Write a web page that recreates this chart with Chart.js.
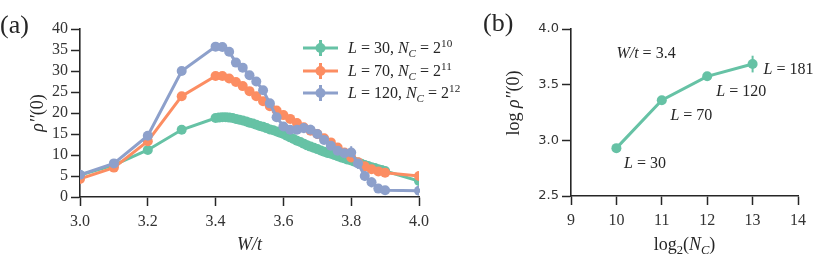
<!DOCTYPE html>
<html>
<head>
<meta charset="utf-8">
<script src="https://cdn.jsdelivr.net/npm/chart.js@4/dist/chart.umd.min.js"></script>
<style>
  body { margin: 0; background: #fff; }
  #wrap { position: relative; width: 830px; height: 266px; }
  #chartA { position: absolute; left: 0; top: 0; }
  #chartB { position: absolute; left: 480px; top: 0; }
</style>
</head>
<body>
<div id="wrap">
  <canvas id="chartA" width="480" height="266"></canvas>
  <canvas id="chartB" width="350" height="266"></canvas>
</div>
<script>
//****DATA****//

// panel (a): rho''(0) against W/t
var wFine = [3.0, 3.1, 3.2, 3.3,
  3.40, 3.41, 3.42, 3.43, 3.44, 3.45, 3.46, 3.47, 3.48, 3.49,
  3.50, 3.51, 3.52, 3.53, 3.54, 3.55, 3.56, 3.57, 3.58, 3.59,
  3.60, 3.61, 3.62, 3.63, 3.64, 3.65, 3.66, 3.67, 3.68, 3.69,
  3.70, 3.71, 3.72, 3.73, 3.74, 3.75, 3.76, 3.77, 3.78, 3.79,
  3.80, 3.81, 3.82, 3.83, 3.84, 3.85, 3.86, 3.87, 3.88, 3.89,
  3.90, 4.0];
var wCoarse = [3.0, 3.1, 3.2, 3.3,
  3.40, 3.42, 3.44, 3.46, 3.48, 3.50, 3.52, 3.54, 3.56, 3.58,
  3.60, 3.62, 3.64, 3.66, 3.68, 3.70, 3.72, 3.74, 3.76, 3.78,
  3.80, 3.82, 3.84, 3.86, 3.88, 3.90, 4.0];

var rhoL30 = [5.2, 7.6, 11.2, 16.0,
  18.8, 18.9, 19.0, 19.0, 18.9, 18.8, 18.6, 18.4, 18.2, 18.0,
  17.7, 17.5, 17.2, 16.9, 16.7, 16.4, 16.1, 15.9, 15.6, 15.3,
  15.0, 14.6, 14.2, 13.8, 13.4, 13.1, 12.7, 12.3, 12.0, 11.7,
  11.4, 11.1, 10.8, 10.5, 10.3, 10.0, 9.7, 9.4, 9.2, 8.9,
  8.7, 8.4, 8.2, 7.9, 7.6, 7.4, 7.1, 6.9, 6.6, 6.4,
  6.2, 3.8];
var rhoL70 = [4.3, 7.0, 13.3, 24.0,
  28.8, 28.8, 28.2, 27.4, 26.4, 25.2, 24.0, 22.8, 21.6, 20.6,
  19.5, 18.6, 17.6, 16.6, 15.8, 15.0, 14.0, 13.0, 11.8, 10.6,
  9.4, 8.3, 7.3, 6.6, 6.1, 5.8, 5.0];
var rhoL120 = [5.3, 8.0, 14.6, 30.0,
  35.8, 35.7, 34.6, 32.0, 30.8, 29.0, 27.5, 25.4, 22.3, 19.0,
  16.8, 16.0, 16.0, 16.4, 16.0, 15.0, 13.6, 12.2, 11.0, 10.4,
  10.6, 8.0, 5.0, 3.5, 2.0, 1.6, 1.5];
var errL120 = [0, 0, 0, 0,
  0, 0, 0, 0, 0, 0, 0, 0, 0, 0.3,
  0.6, 0.8, 1.0, 1.2, 1.2, 1.2, 1.0, 1.0, 1.0, 1.2,
  1.5, 1.3, 1.2, 1.2, 1.0, 0.8, 0.5];

var legendL = ['30', '70', '120'];
var legendExp = ['10', '11', '12'];

// panel (b): log rho''(0) against log2(N_C) at W/t = 3.4
var log2Nc = [10, 11, 12, 13];
var logRho = [2.93, 3.36, 3.575, 3.685];
var errLogRho = [0.01, 0.01, 0.015, 0.075];
var sizeL = ['30', '70', '120', '181'];

var xTicksA = [3.0, 3.2, 3.4, 3.6, 3.8, 4.0];
var yTicksA = [0, 5, 10, 15, 20, 25, 30, 35, 40];
var xTicksB = [9, 10, 11, 12, 13, 14];
var yTicksB = [2.5, 3.0, 3.5, 4.0];

//****STYLE****//

var GREEN = '#66c2a5';
var ORANGE = '#fc8d62';
var BLUE = '#8da0cb';
var INK = '#262626';
var SERIF = '"Liberation Serif", "DejaVu Serif", serif';

//****HELPERS****//

function points(xs, ys) {
  return xs.map(function (x, i) { return { x: x, y: ys[i] }; });
}

// parts: [text, flags] where flags: i = italic, s = subscript, p = superscript
function drawRich(ctx, parts, x, y, size, align) {
  var pieces = parts.map(function (p) {
    var f = p[1] || '';
    var small = f.indexOf('s') >= 0 || f.indexOf('p') >= 0;
    var sz = small ? size * 0.7 : size;
    var font = (f.indexOf('i') >= 0 ? 'italic ' : '') + sz + 'px ' + SERIF;
    ctx.font = font;
    var dy = f.indexOf('s') >= 0 ? size * 0.22 : (f.indexOf('p') >= 0 ? -size * 0.38 : 0);
    return { t: p[0], font: font, w: ctx.measureText(p[0]).width, dy: dy };
  });
  var total = pieces.reduce(function (a, p) { return a + p.w; }, 0);
  var cx = align === 'center' ? x - total / 2 : x;
  var base = y + size * 0.33;
  ctx.textAlign = 'left';
  ctx.textBaseline = 'alphabetic';
  ctx.fillStyle = INK;
  pieces.forEach(function (p) {
    ctx.font = p.font;
    ctx.fillText(p.t, cx, base + p.dy);
    cx += p.w;
  });
}

function drawErrorBars(chart) {
  var ctx = chart.ctx;
  var yScale = chart.scales.y;
  chart.data.datasets.forEach(function (ds, i) {
    if (!ds.errors) return;
    var meta = chart.getDatasetMeta(i);
    ctx.save();
    ctx.strokeStyle = ds.borderColor;
    ctx.lineWidth = 2;
    meta.data.forEach(function (pt, j) {
      var e = ds.errors[j];
      if (!e) return;
      var v = ds.data[j].y;
      ctx.beginPath();
      ctx.moveTo(pt.x, yScale.getPixelForValue(v - e));
      ctx.lineTo(pt.x, yScale.getPixelForValue(v + e));
      ctx.stroke();
    });
    ctx.restore();
  });
}

function axisOptions(min, max, tickValues, fmt, font, fitSize, isX) {
  return {
    type: 'linear',
    min: min,
    max: max,
    afterBuildTicks: function (s) {
      s.ticks = tickValues.map(function (v) { return { value: v }; });
    },
    afterFit: function (s) {
      if (isX) { s.height = fitSize; } else { s.width = fitSize; }
    },
    grid: {
      drawOnChartArea: false,
      drawTicks: true,
      tickLength: 9,
      tickWidth: 1.5,
      tickColor: INK
    },
    border: { display: true, color: INK, width: 1.6 },
    ticks: {
      color: '#333',
      font: font,
      padding: isX ? 6 : 3,
      maxRotation: 0,
      autoSkip: false,
      callback: fmt
    }
  };
}

function lineSet(label, data, color, order) {
  return {
    label: label,
    data: data,
    borderColor: color,
    backgroundColor: color,
    pointBackgroundColor: color,
    pointBorderColor: color,
    borderWidth: 3,
    pointRadius: 5,
    pointBorderWidth: 0,
    pointHoverRadius: 5,
    order: order
  };
}

//****PANEL (a)****//

var panelAPlugin = {
  id: 'panelA',
  beforeDatasetsDraw: drawErrorBars,
  afterDraw: function (chart) {
    var ctx = chart.ctx;
    var area = chart.chartArea;
    var colors = [GREEN, ORANGE, BLUE];
    var rows = [48, 71, 93];
    ctx.save();
    // legend
    colors.forEach(function (c, i) {
      var y = rows[i];
      ctx.strokeStyle = c;
      ctx.fillStyle = c;
      ctx.lineWidth = 3;
      ctx.beginPath();
      ctx.moveTo(303, y);
      ctx.lineTo(338, y);
      ctx.moveTo(320.5, y - 8);
      ctx.lineTo(320.5, y + 8);
      ctx.stroke();
      ctx.beginPath();
      ctx.arc(320.5, y, 5, 0, Math.PI * 2);
      ctx.fill();
      drawRich(ctx, [['L', 'i'], [' = ' + legendL[i] + ', '], ['N', 'i'], ['C', 'is'],
        [' = 2'], [legendExp[i], 'p']], 348, y, 16, 'left');
    });
    // axis titles
    drawRich(ctx, [['W/t', 'i']], (area.left + area.right) / 2, 244, 18, 'center');
    ctx.save();
    ctx.translate(37, (area.top + area.bottom) / 2);
    ctx.rotate(-Math.PI / 2);
    drawRich(ctx, [['\u03C1\u2032\u2032', 'i'], ['(0)']], 0, 0, 18, 'center');
    ctx.restore();
    // panel label
    drawRich(ctx, [['(a)']], 0, 24, 26, 'left');
    ctx.restore();
  }
};

var chartA = new Chart(document.getElementById('chartA'), {
  type: 'line',
  data: {
    datasets: [
      lineSet('L = 30', points(wFine, rhoL30), GREEN, 3),
      lineSet('L = 70', points(wCoarse, rhoL70), ORANGE, 2),
      Object.assign(lineSet('L = 120', points(wCoarse, rhoL120), BLUE, 1), { errors: errL120 })
    ]
  },
  options: {
    responsive: false,
    animation: false,
    events: [],
    layout: { padding: { top: 29, right: 61, left: 0, bottom: 0 } },
    plugins: { legend: { display: false }, tooltip: { enabled: false } },
    scales: {
      x: axisOptions(3.0, 4.0, xTicksA, function (v) { return Number(v).toFixed(1); },
        { family: SERIF, size: 16 }, 69, true),
      y: axisOptions(0, 40, yTicksA, function (v) { return String(v); },
        { family: SERIF, size: 16 }, 80, false)
    }
  },
  plugins: [panelAPlugin]
});

//****PANEL (b)****//

var panelBPlugin = {
  id: 'panelB',
  beforeDatasetsDraw: drawErrorBars,
  afterDraw: function (chart) {
    var ctx = chart.ctx;
    var area = chart.chartArea;
    var xs = chart.scales.x;
    var ys = chart.scales.y;
    // label placements in data units
    var notes = [
      { parts: [['W/t', 'i'], [' = 3.4']], x: 10.0, y: 3.79 },
      { parts: [['L', 'i'], [' = ' + sizeL[0]]], x: 10.17, y: 2.80 },
      { parts: [['L', 'i'], [' = ' + sizeL[1]]], x: 11.19, y: 3.23 },
      { parts: [['L', 'i'], [' = ' + sizeL[2]]], x: 12.2, y: 3.45 },
      { parts: [['L', 'i'], [' = ' + sizeL[3]]], x: 13.24, y: 3.64 }
    ];
    ctx.save();
    notes.forEach(function (n) {
      drawRich(ctx, n.parts, xs.getPixelForValue(n.x), ys.getPixelForValue(n.y), 16, 'left');
    });
    drawRich(ctx, [['log'], ['2', 's'], ['('], ['N', 'i'], ['C', 'is'], [')']],
      (area.left + area.right) / 2, 244, 18, 'center');
    ctx.translate(33, 103);
    ctx.rotate(-Math.PI / 2);
    drawRich(ctx, [['log '], ['\u03C1\u2032\u2032', 'i'], ['(0)']], 0, 0, 18, 'center');
    ctx.restore();
    ctx.save();
    drawRich(ctx, [['(b)']], 3, 22, 26, 'left');
    ctx.restore();
  }
};

var chartB = new Chart(document.getElementById('chartB'), {
  type: 'line',
  data: {
    datasets: [
      Object.assign(lineSet('W/t = 3.4', points(log2Nc, logRho), GREEN, 1), { errors: errLogRho })
    ]
  },
  options: {
    responsive: false,
    animation: false,
    events: [],
    layout: { padding: { top: 29, right: 32, left: 0, bottom: 0 } },
    plugins: { legend: { display: false }, tooltip: { enabled: false } },
    scales: {
      x: axisOptions(9, 14, xTicksB, function (v) { return String(v); },
        { family: SERIF, size: 16 }, 70, true),
      y: axisOptions(2.5, 4.0, yTicksB, function (v) { return Number(v).toFixed(1); },
        { family: '"DejaVu Sans", sans-serif', size: 13 }, 91, false)
    }
  },
  plugins: [panelBPlugin]
});
</script>
</body>
</html>
